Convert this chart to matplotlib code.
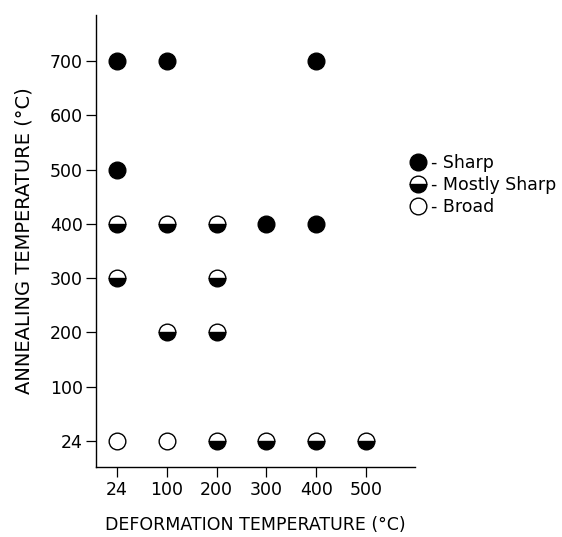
import matplotlib
matplotlib.use("Agg")
import matplotlib.pyplot as plt
from matplotlib.lines import Line2D

# category labels on both axes (evenly spaced, not linear)
deform_labels = ["24", "100", "200", "300", "400", "500"]
anneal_labels = ["24", "100", "200", "300", "400", "500", "600", "700"]

# (deformation, annealing) pairs per peak shape
sharp_x = ["24", "100", "400", "24", "300", "400"]
sharp_y = ["700", "700", "700", "500", "400", "400"]

mostly_x = ["24", "100", "200", "24", "200", "100", "200", "200", "300", "400", "500"]
mostly_y = ["400", "400", "400", "300", "300", "200", "200", "24", "24", "24", "24"]

broad_x = ["24", "100"]
broad_y = ["24", "24"]

plt.rcParams['font.family'] = ['DejaVu Sans']

fig = plt.figure(figsize=(5.62, 5.37), dpi=100)
ax = fig.add_axes([96 / 562, (537 - 467) / 537, (415 - 96) / 562, (467 - 15) / 537])


def xi(vals):
    return [deform_labels.index(v) for v in vals]


def yi(vals):
    return [anneal_labels.index(v) for v in vals]


ms = 12
ax.plot(xi(sharp_x), yi(sharp_y), linestyle='none', marker='o', ms=ms,
        mfc='black', mec='black', mew=1.0)
ax.plot(xi(mostly_x), yi(mostly_y), linestyle='none', marker='o', ms=ms,
        fillstyle='bottom', mfc='black', markerfacecoloralt='white',
        mec='black', mew=1.0)
ax.plot(xi(broad_x), yi(broad_y), linestyle='none', marker='o', ms=ms,
        mfc='white', mec='black', mew=1.0)

ax.set_xlim(-0.42, 5.98)
ax.set_ylim(-0.48, 7.85)

ax.set_xticks(range(len(deform_labels)))
ax.set_xticklabels(deform_labels)
ax.set_yticks(range(len(anneal_labels)))
ax.set_yticklabels(anneal_labels)

for s in ['top', 'right']:
    ax.spines[s].set_visible(False)
for s in ['left', 'bottom']:
    ax.spines[s].set_linewidth(1.0)

ax.tick_params(direction='out', length=7, width=0.9, labelsize=12.5)
ax.tick_params(axis='x', pad=3)
ax.tick_params(axis='y', pad=2.5)

ax.set_xlabel("DEFORMATION TEMPERATURE (°C)", fontsize=12.5, labelpad=12)
ax.set_ylabel("ANNEALING TEMPERATURE (°C)", fontsize=14, labelpad=12)

handles = [
    Line2D([], [], linestyle='none', marker='o', ms=ms, mfc='black', mec='black'),
    Line2D([], [], linestyle='none', marker='o', ms=ms, fillstyle='bottom',
           mfc='black', markerfacecoloralt='white', mec='black'),
    Line2D([], [], linestyle='none', marker='o', ms=ms, mfc='white', mec='black'),
]
fig.legend(handles, ["- Sharp", "- Mostly Sharp", "- Broad"],
           loc='upper left', bbox_to_anchor=(404 / 562, 1 - 147 / 537),
           frameon=False, fontsize=12.5, handlelength=0.8, handletextpad=0.35,
           labelspacing=0.22, borderaxespad=0)

fig.savefig("out.png", dpi=100)
